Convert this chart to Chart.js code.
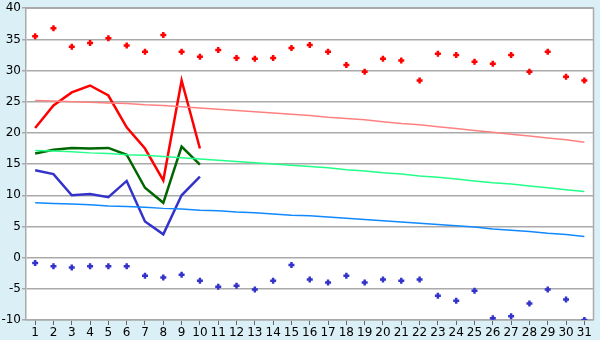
<!DOCTYPE html>
<html>
<head>
<meta charset="utf-8">
<script src="https://cdn.jsdelivr.net/npm/chart.js@4/dist/chart.umd.min.js"></script>
<style>
  html, body { margin: 0; padding: 0; background: #daf0f6; }
  #wrap { width: 600px; height: 340px; }
</style>
</head>
<body>
<div id="wrap"><canvas id="c" width="600" height="340"></canvas></div>
<script>
// days of month
const days = Array.from({ length: 31 }, (_, i) => String(i + 1));
const yTicks = [-10, -5, 0, 5, 10, 15, 20, 25, 30, 35, 40];

// record highs / lows (scatter markers)
const recHigh = [35.5, 36.8, 33.8, 34.4, 35.2, 34.0, 33.0, 35.7, 33.0, 32.2, 33.3, 32.0, 31.9, 32.0, 33.6, 34.1,
    33.0, 30.9, 29.8, 31.9, 31.6, 28.4, 32.7, 32.5, 31.4, 31.1, 32.5, 29.8, 33.0, 29.0, 28.4];
const recLow = [-0.85, -1.4, -1.6, -1.4, -1.4, -1.4, -2.9, -3.2, -2.75, -3.7, -4.65, -4.5, -5.1, -3.7, -1.2, -3.5,
    -4.0, -2.9, -4.0, -3.5, -3.7, -3.5, -6.1, -6.9, -5.3, -9.7, -9.4, -7.35, -5.1, -6.7, -10.0];

// observed so far (first 10 days)
const obsMax = [20.8, 24.4, 26.5, 27.6, 26.0, 20.9, 17.5, 12.4, 28.4, 17.5];
const obsMean = [16.7, 17.3, 17.6, 17.5, 17.6, 16.5, 11.2, 8.8, 17.8, 14.9];
const obsMin = [14.0, 13.4, 10.0, 10.2, 9.7, 12.3, 5.8, 3.75, 10.0, 13.0];

// normals
const normMax = [25.2, 25.1, 25.0, 24.9, 24.8, 24.7, 24.5, 24.4, 24.2, 24.0, 23.8, 23.6, 23.4, 23.2, 23.0, 22.8,
    22.5, 22.3, 22.1, 21.8, 21.5, 21.3, 21.0, 20.7, 20.4, 20.1, 19.8, 19.5, 19.2, 18.9, 18.5];
const normMean = [17.2, 17.1, 17.0, 16.8, 16.7, 16.5, 16.4, 16.2, 16.0, 15.8, 15.6, 15.4, 15.2, 15.0, 14.8, 14.6,
    14.4, 14.1, 13.9, 13.6, 13.4, 13.1, 12.9, 12.6, 12.3, 12.0, 11.8, 11.5, 11.2, 10.9, 10.6];
const normMin = [8.8, 8.7, 8.6, 8.5, 8.3, 8.2, 8.1, 7.9, 7.8, 7.6, 7.5, 7.3, 7.2, 7.0, 6.8, 6.7,
    6.5, 6.3, 6.1, 5.9, 5.7, 5.5, 5.3, 5.1, 4.9, 4.6, 4.4, 4.2, 3.9, 3.7, 3.4];

const plotBg = {
    id: 'plotBg',
    beforeDraw(chart) {
        const { ctx, chartArea: a } = chart;
        ctx.save();
        ctx.fillStyle = '#ffffff';
        ctx.fillRect(a.left, a.top, a.right - a.left, a.bottom - a.top);
        ctx.restore();
    },
    afterDatasetsDraw(chart) {
        const { ctx, chartArea: a } = chart;
        ctx.save();
        ctx.strokeStyle = '#aaaaaa';
        ctx.lineWidth = 1.5;
        ctx.beginPath();
        ctx.moveTo(a.left, a.top);
        ctx.lineTo(a.right, a.top);
        ctx.lineTo(a.right, a.bottom);
        ctx.stroke();
        ctx.restore();
    }
};

const line = (data, color, width) => ({
    data, borderColor: color, borderWidth: width, pointRadius: 0, tension: 0, fill: false
});
const marks = (data, color) => ({
    data, showLine: false, pointStyle: 'cross', pointRadius: 3, borderWidth: 2.5,
    borderColor: color, backgroundColor: color
});

new Chart(document.getElementById('c'), {
    type: 'line',
    data: {
        labels: days,
        datasets: [
            line(normMax, '#ff8080', 1.5),
            line(normMean, '#22ff88', 1.5),
            line(normMin, '#1188ff', 1.5),
            line(obsMax, '#ff0000', 2.5),
            line(obsMean, '#006600', 2.5),
            line(obsMin, '#3333cc', 2.5),
            marks(recHigh, '#ff0000'),
            marks(recLow, '#3333cc')
        ]
    },
    options: {
        responsive: false, animation: false,
        layout: { padding: { top: 5, right: 4, left: 0, bottom: 0 } },
        plugins: { legend: { display: false }, tooltip: { enabled: false } },
        scales: {
            x: {
                offset: true,
                grid: { offset: false, drawOnChartArea: false, color: '#666', tickLength: 5 },
                border: { color: '#aaaaaa', width: 1.5 },
                ticks: { color: '#000', font: { family: 'DejaVu Sans', size: 12 }, padding: 1, maxRotation: 0, autoSkip: false },
                afterFit: s => { s.height = 20; }
            },
            y: {
                min: -10, max: 40,
                afterBuildTicks: s => { s.ticks = yTicks.map(v => ({ value: v })); },
                grid: { color: '#aaaaaa', lineWidth: 1.5, tickLength: 4 },
                border: { color: '#aaaaaa', width: 1.5 },
                ticks: { color: '#000', font: { family: 'DejaVu Sans', size: 12 }, padding: 1 },
                afterFit: s => { s.width = 26; }
            }
        }
    },
    plugins: [plotBg]
});
</script>
</body>
</html>
